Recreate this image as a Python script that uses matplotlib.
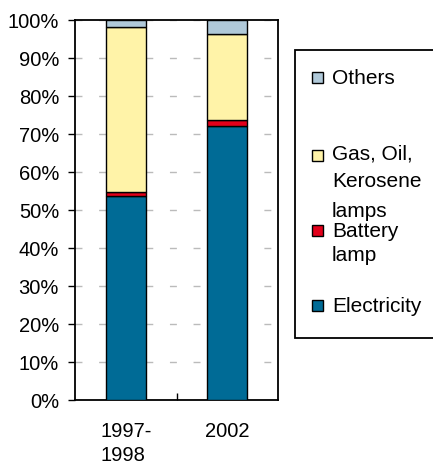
import matplotlib
matplotlib.use("Agg")
import matplotlib.pyplot as plt
from matplotlib.patches import Rectangle
import numpy as np

plt.rcParams['font.family'] = ['Liberation Sans', 'DejaVu Sans']

categories = ["1997-\n1998", "2002"]
electricity = [53.7, 72.1]
battery = [1.0, 1.6]
gas = [43.5, 22.6]
others = [1.8, 3.7]

series_vals = [electricity, battery, gas, others]
colors = ["#006b96", "#e2001a", "#fff3a8", "#b0c9d9"]

# legend labels (line by line) in reference order top->bottom
legend_labels = [["Others"], ["Gas, Oil,", "Kerosene", "lamps"], ["Battery", "lamp"], ["Electricity"]]
legend_colors = [colors[3], colors[2], colors[1], colors[0]]

W, H = 433, 466
fig = plt.figure(figsize=(W / 100, H / 100), dpi=100)
ax = fig.add_axes([75 / W, 1 - 400 / H, 203 / W, 380 / H])

x = np.arange(len(categories))
bottom = np.zeros(len(categories))
for vals, c in zip(series_vals, colors):
    ax.bar(x, vals, width=0.39, bottom=bottom, color=c, edgecolor="black", linewidth=1.0, zorder=3)
    bottom += np.array(vals)

FS = 14.5
ax.set_xlim(-0.5, 1.5)
ax.set_ylim(0, 100)
ax.set_yticks(np.arange(0, 101, 10))
ax.set_yticklabels([f"{v}%" for v in range(0, 101, 10)], fontsize=FS)
ax.set_xticks(x)
ax.set_xticklabels(categories, fontsize=FS, multialignment="left", linespacing=1.3)
ax.tick_params(axis="x", length=0, pad=16)
ax.tick_params(axis="y", direction="out", length=5, width=1, pad=6.5)
ax.set_xticks([0.5], minor=True)
ax.tick_params(axis="x", which="minor", direction="in", length=5, width=1)
ax.yaxis.grid(True, linestyle=(0, (5, 12)), color="#bbbbbb", linewidth=1, zorder=0)
ax.set_axisbelow(True)
for s in ax.spines.values():
    s.set_linewidth(1.3)

# legend box (drawn manually to mimic layout)
lx0, ly0, lx1, ly1 = 295, 50, 440, 338
fig.patches.append(Rectangle((lx0 / W, 1 - ly1 / H), (lx1 - lx0) / W, (ly1 - ly0) / H,
                             transform=fig.transFigure, facecolor="white", edgecolor="black",
                             linewidth=1.3, clip_on=False))
marker_tops = [72, 150, 225, 300]
line_baselines = [[84], [160, 187, 217], [237, 261], [312]]
for lines, c, mt, bls in zip(legend_labels, legend_colors, marker_tops, line_baselines):
    fig.patches.append(Rectangle((312 / W, 1 - (mt + 11) / H), 11 / W, 11 / H,
                                 transform=fig.transFigure, facecolor=c, edgecolor="black",
                                 linewidth=1.0))
    for line, bl in zip(lines, bls):
        fig.text(332 / W, 1 - bl / H, line, fontsize=15, va="baseline", ha="left")

fig.savefig("out.png", dpi=100)
